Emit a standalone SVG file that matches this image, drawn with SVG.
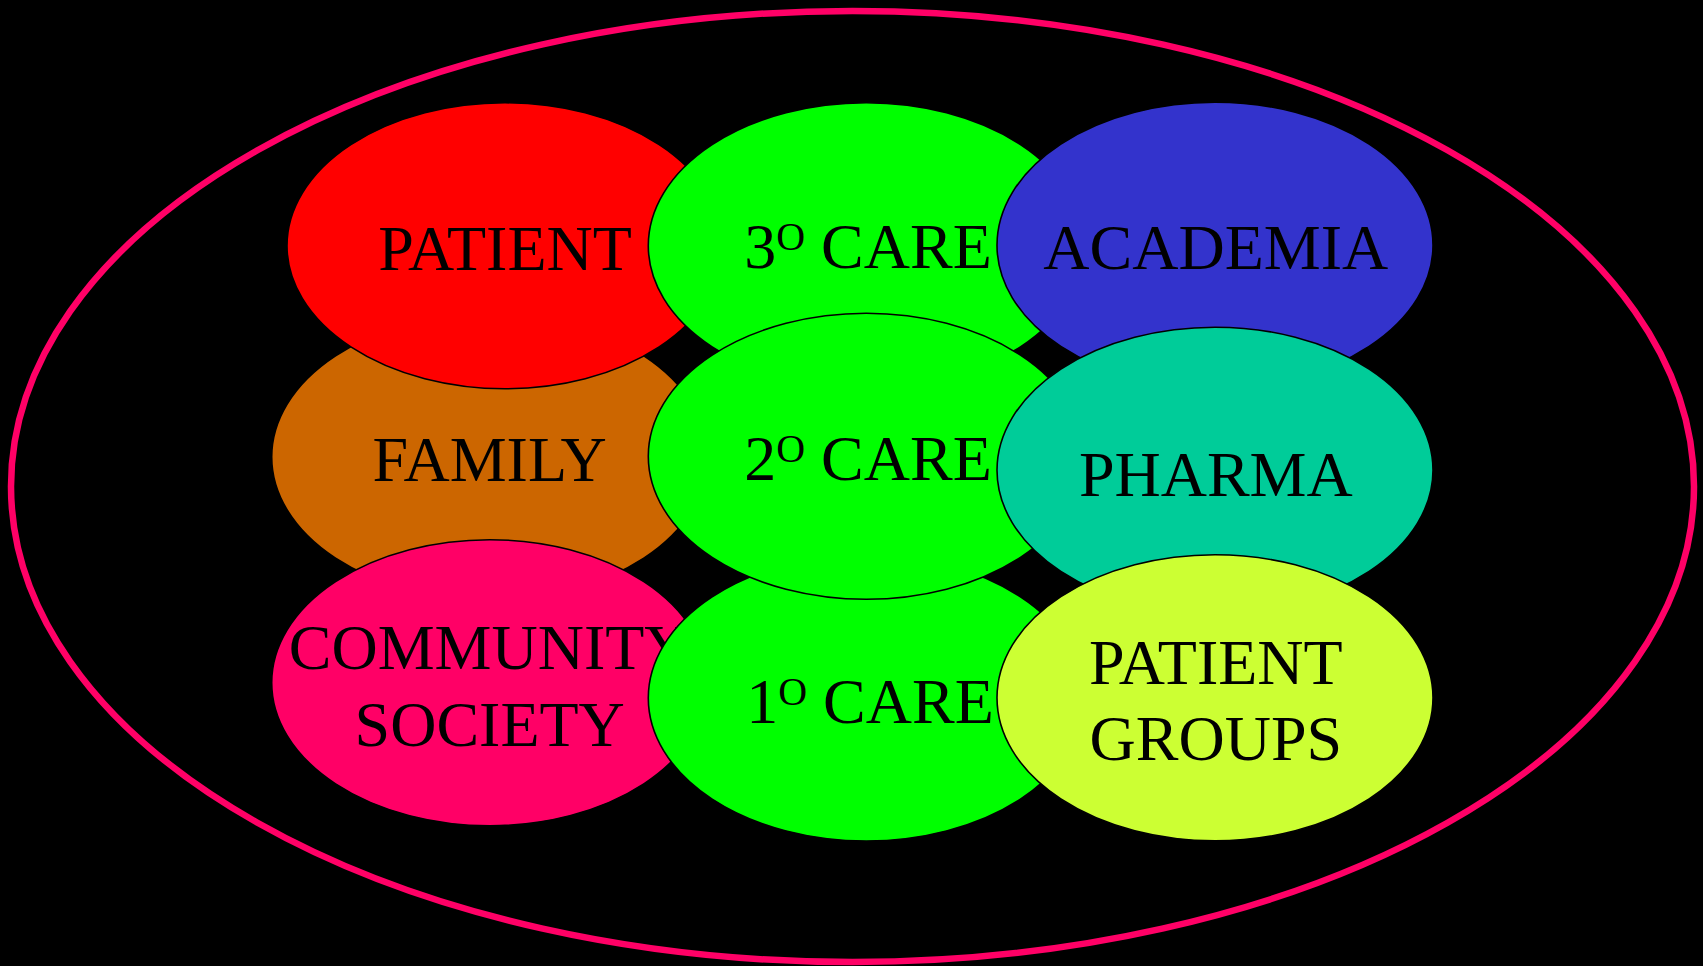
<svg xmlns="http://www.w3.org/2000/svg" width="1703" height="966" viewBox="0 0 1703 966">
<style>
.n{stroke:#000;stroke-width:1.6}
.t{font-family:"Liberation Serif","Times New Roman",serif;font-size:64px;fill:#000;text-anchor:middle}
.s{font-size:40px}
</style>
<rect width="1703" height="966" fill="#000"/>
<g id="outer"><ellipse cx="852.5" cy="486.5" rx="841.5" ry="475.5" fill="none" stroke="#FF0066" stroke-width="6.5"/></g>
<g id="connectors"/>
<g id="family"><ellipse class="n" cx="489.7" cy="457" rx="218" ry="143" fill="#CC6600"/><text class="t" x="489.7" y="480.7">FAMILY</text></g>
<g id="patient"><ellipse class="n" cx="505" cy="245.8" rx="218" ry="143" fill="#FF0000"/><text class="t" x="505" y="270">PATIENT</text></g>
<g id="community"><ellipse class="n" cx="489.7" cy="682.7" rx="218" ry="143" fill="#FF0066"/><text class="t" x="489.7" y="669">COMMUNITY</text><text class="t" x="489.7" y="745.7">SOCIETY</text></g>
<g id="care3"><ellipse class="n" cx="866.3" cy="245.7" rx="218" ry="143" fill="#00FF00"/><text class="t" x="868" y="268.3">3<tspan class="s" dy="-18">O</tspan><tspan dy="18"> CARE</tspan></text></g>
<g id="care1"><ellipse class="n" cx="866.3" cy="698" rx="218" ry="143" fill="#00FF00"/><text class="t" x="870" y="722.7">1<tspan class="s" dy="-18">O</tspan><tspan dy="18"> CARE</tspan></text></g>
<g id="care2"><ellipse class="n" cx="866.3" cy="456.3" rx="218" ry="143" fill="#00FF00"/><text class="t" x="868" y="480">2<tspan class="s" dy="-18">O</tspan><tspan dy="18"> CARE</tspan></text></g>
<g id="academia"><ellipse class="n" cx="1215" cy="245.2" rx="218" ry="143" fill="#3333CC"/><text class="t" x="1215.8" y="269">ACADEMIA</text></g>
<g id="pharma"><ellipse class="n" cx="1215" cy="470.2" rx="218" ry="143" fill="#00CC99"/><text class="t" x="1215.8" y="495.7">PHARMA</text></g>
<g id="patient-groups"><ellipse class="n" cx="1215" cy="697.8" rx="218" ry="143" fill="#CCFF33"/><text class="t" x="1215.8" y="684">PATIENT</text><text class="t" x="1215.8" y="760">GROUPS</text></g>
</svg>
